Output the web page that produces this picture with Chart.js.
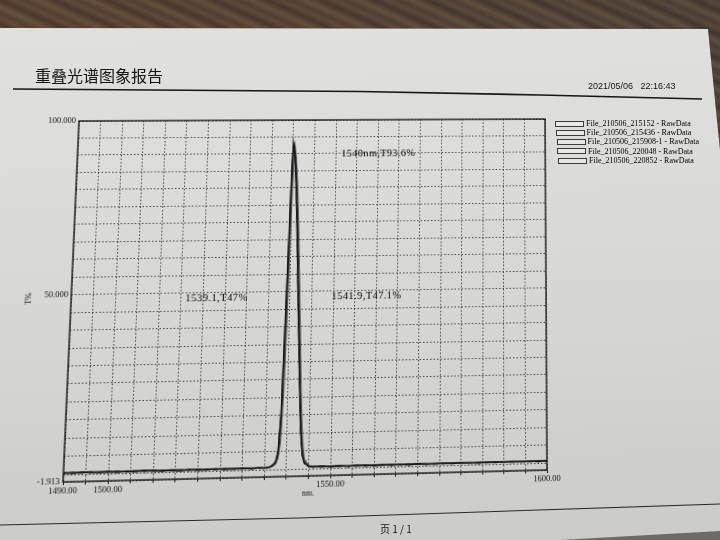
<!DOCTYPE html>
<html>
<head>
<meta charset="utf-8">
<script src="https://cdn.jsdelivr.net/npm/chart.js@4"></script>
<style>
  html, body { margin: 0; padding: 0; width: 720px; height: 540px; overflow: hidden; }
  body { position: relative; background: linear-gradient(178deg, #e1e1df 0%, #dbdbd9 35%, #d3d4d1 70%, #cbccc9 100%); }
  #warp { position: absolute; left: 0; top: 0; width: 720px; height: 540px; transform-origin: 0 0; }
  canvas { display: block; }
  svg { position: absolute; left: 0; top: 0; }
  .t { position: absolute; white-space: nowrap; color: #151515; line-height: 1; will-change: transform; }
  #title { left: 35px; top: 63px; font: 16px "Noto Sans CJK SC"; }
  #stamp { left: 588px; top: 81px; font: 9px "Liberation Sans"; }
  #page { left: 380px; top: 521px; font: 10px "Noto Sans CJK SC"; }
  #legend { position: absolute; left: 0; top: 0; width: 720px; height: 540px; will-change: transform; }
  .row { position: absolute; display: flex; align-items: center; height: 9px; font: 8px "Liberation Serif"; color: #000; white-space: nowrap; }
  .sw { width: 27px; height: 4px; border: 1px solid #3c3c3c; background: #e7e7e5; margin-right: 2px; }
</style>
</head>
<body>
<svg width="720" height="540">
  <defs>
    <linearGradient id="grain" gradientUnits="userSpaceOnUse" x1="0" y1="0" x2="9" y2="-20" spreadMethod="repeat">
      <stop offset="0" stop-color="#3d2f27"/>
      <stop offset="0.25" stop-color="#5c4a3d"/>
      <stop offset="0.45" stop-color="#4a3a30"/>
      <stop offset="0.7" stop-color="#66523f"/>
      <stop offset="1" stop-color="#3d2f27"/>
    </linearGradient>
    <linearGradient id="tone" x1="0" y1="0" x2="1" y2="0">
      <stop offset="0" stop-color="#6b4a32" stop-opacity="0.3"/>
      <stop offset="1" stop-color="#4a4440" stop-opacity="0.3"/>
    </linearGradient>
  </defs>
  <polygon points="0,0 720,0 720,150 714,90 708,29 0,28" fill="url(#grain)"/>
  <polygon points="0,0 720,0 720,150 714,90 708,29 0,28" fill="url(#tone)"/>
  <polygon points="560,540 720,531 720,540" fill="#6e6a66"/>
  <polyline points="13,89 360,91.5 540,95 702,99" fill="none" stroke="#161616" stroke-width="1.6"/>
  <polyline points="0,525 300,518 720,504" fill="none" stroke="#2a2a2a" stroke-width="1.1"/>
</svg>
<div class="t" id="title">重叠光谱图象报告</div>
<div class="t" id="stamp">2021/05/06&nbsp;&nbsp;&nbsp;22:16:43</div>
<div class="t" id="page">页 1 / 1</div>
<div id="legend"></div>
<div id="warp"><canvas id="c" width="720" height="540"></canvas></div>
<script>
// Wavelength samples (nm): coarse along the baseline, fine across the peak
const wavelengths = [
  1490,1492,1494,1496,1498,1500,1502,1504,1506,1508,1510,1512,1514,1516,1518,1520,1522,1524,1526,1528,1530,1532,1534,
  1535,1536,1536.5,1537,1537.5,1538,1538.5,1539,1539.25,1539.5,1539.75,1540,1540.25,1540.5,1540.75,1541,1541.25,1541.5,1541.75,1542,1542.25,1542.5,1543,1543.5,1544,1545,
  1546,1548,1550,1552,1554,1556,1558,1560,1562,1564,1566,1568,1570,1572,1574,1576,1578,1580,1582,1584,1586,1588,1590,1592,1594,1596,1598,1600
];

const seriesLabels = [
  'File_210506_215152 - RawData',
  'File_210506_215436 - RawData',
  'File_210506_215908-1 - RawData',
  'File_210506_220048 - RawData',
  'File_210506_220852 - RawData'
];

// Transmission T% for each scan
const scan215152 = [
  0.6,0.3,0.7,0.4,0.5,0.8,0.3,0.6,0.5,0.7,0.4,0.6,0.5,0.3,0.7,0.5,0.6,0.4,0.7,0.5,0.6,0.5,0.7,
  0.6,0.8,1.0,1.4,2.2,5.0,15.5,41.5,55.5,70.0,85.0,93.6,92.0,89.0,84.0,77.5,70.0,61.5,52.0,44.0,36.0,27.0,11.5,4.0,1.7,0.8,
  0.5,0.7,0.4,0.6,0.5,0.8,0.4,0.6,0.7,0.5,0.6,0.4,0.7,0.5,0.6,0.8,0.5,0.7,0.6,0.4,0.7,0.6,0.5,0.8,0.6,0.7,0.5,0.6
];
const scan215436 = [
  0.4,0.7,0.5,0.6,0.3,0.6,0.7,0.4,0.6,0.5,0.8,0.4,0.6,0.7,0.4,0.6,0.5,0.7,0.4,0.6,0.7,0.5,0.6,
  0.5,0.7,0.9,1.3,2.0,4.4,13.0,36.0,50.5,65.5,81.0,92.0,93.0,90.0,85.5,79.5,72.5,64.5,55.5,47.0,39.0,30.0,13.5,4.8,1.9,0.8,
  0.7,0.4,0.6,0.8,0.5,0.6,0.7,0.4,0.5,0.7,0.6,0.8,0.5,0.6,0.7,0.5,0.8,0.6,0.5,0.7,0.5,0.8,0.6,0.7,0.5,0.6,0.8,0.7
];
const scan215908 = [
  0.5,0.5,0.3,0.6,0.7,0.4,0.5,0.7,0.3,0.6,0.5,0.7,0.4,0.5,0.6,0.4,0.7,0.5,0.6,0.4,0.5,0.7,0.5,
  0.5,0.6,0.8,1.1,1.6,3.0,7.5,22.0,35.0,50.5,66.0,80.5,89.0,91.5,89.0,85.0,79.5,72.5,65.0,56.5,48.0,39.5,21.0,8.0,2.8,1.0,
  0.6,0.5,0.7,0.5,0.7,0.4,0.6,0.5,0.8,0.6,0.5,0.7,0.6,0.4,0.7,0.6,0.5,0.7,0.8,0.5,0.6,0.7,0.6,0.5,0.7,0.8,0.6,0.5
];
const scan220048 = [
  0.7,0.4,0.6,0.5,0.6,0.5,0.4,0.6,0.7,0.4,0.6,0.5,0.7,0.4,0.5,0.7,0.4,0.6,0.5,0.7,0.4,0.6,0.6,
  0.6,0.7,0.9,1.2,1.9,3.8,10.5,29.5,43.0,58.0,74.5,87.5,92.2,90.5,87.0,82.0,75.5,68.5,60.0,51.5,43.0,34.5,16.0,5.6,2.1,0.9,
  0.5,0.6,0.5,0.7,0.4,0.7,0.5,0.7,0.6,0.4,0.7,0.5,0.6,0.7,0.5,0.6,0.7,0.5,0.6,0.8,0.6,0.5,0.7,0.6,0.8,0.5,0.7,0.6
];
const scan220852 = [
  0.3,0.6,0.5,0.7,0.5,0.4,0.6,0.5,0.4,0.8,0.5,0.3,0.6,0.5,0.6,0.3,0.5,0.6,0.4,0.5,0.6,0.4,0.6,
  0.6,0.8,1.1,1.5,2.4,5.4,16.5,43.0,56.5,71.0,85.5,92.8,90.5,87.0,81.5,75.0,67.5,59.0,50.0,42.0,34.0,25.5,10.5,3.7,1.6,0.7,
  0.6,0.8,0.5,0.5,0.6,0.5,0.8,0.5,0.6,0.7,0.5,0.6,0.8,0.6,0.5,0.7,0.6,0.8,0.5,0.6,0.8,0.7,0.6,0.5,0.7,0.6,0.5,0.8
];
const seriesValues = [scan215152, scan215436, scan215908, scan220048, scan220852];

// Axis ticks / grid positions and which of them carry a label
const xGridValues = [1490,1495,1500,1505,1510,1515,1520,1525,1530,1535,1540,1545,1550,1555,1560,1565,1570,1575,1580,1585,1590,1595,1600];
const xLabelValues = [1490,1500,1550,1600];
const yGridValues = [-1.913,0,5,10,15,20,25,30,35,40,45,50,55,60,65,70,75,80,85,90,95,100];
const yLabelValues = [-1.913,50,100];

// Peak readouts written on the plot
const peakNotes = [
  { text: '1540nm,T93.6%', x: 1551.3, y: 90.0, align: 'left' },
  { text: '1539.1,T47%', x: 1530.2, y: 48.4, align: 'right' },
  { text: '1541.9,T47.1%', x: 1549.6, y: 48.4, align: 'left' }
];

const lineColors = ['#141414', '#2c2c2c', '#5a5a5a', '#333333', '#1f1f1f'];

Chart.defaults.font.family = '"Liberation Serif", serif';

const frameAndNotes = {
  id: 'frameAndNotes',
  afterDraw(chart) {
    const { ctx, chartArea: a, scales: { x, y } } = chart;
    ctx.save();
    ctx.strokeStyle = '#111';
    ctx.lineWidth = 1.3;
    ctx.strokeRect(a.left, a.top, a.right - a.left, a.bottom - a.top);
    ctx.fillStyle = '#000';
    ctx.font = '10.5px "Liberation Serif"';
    ctx.letterSpacing = '0.4px';
    ctx.textBaseline = 'middle';
    peakNotes.forEach(n => {
      ctx.textAlign = n.align;
      ctx.fillText(n.text, x.getPixelForValue(n.x), y.getPixelForValue(n.y));
    });
    ctx.restore();
  }
};

const chart = new Chart(document.getElementById('c'), {
  type: 'line',
  data: {
    datasets: seriesValues.map((vals, i) => ({
      label: seriesLabels[i],
      data: wavelengths.map((w, j) => ({ x: w, y: vals[j] })),
      borderColor: lineColors[i],
      borderWidth: 1.15,
      pointRadius: 0,
      tension: 0,
      fill: false
    }))
  },
  options: {
    responsive: false,
    animation: false,
    devicePixelRatio: 1,
    layout: { padding: { left: 20, right: 174, top: 120, bottom: 42 } },
    plugins: { legend: { display: false }, tooltip: { enabled: false } },
    scales: {
      x: {
        type: 'linear', min: 1490, max: 1600,
        afterBuildTicks: s => { s.ticks = xGridValues.map(v => ({ value: v })); },
        afterFit: s => { s.height = 22; },
        ticks: {
          autoSkip: false, maxRotation: 0, padding: 1, color: '#111', font: { size: 8.5 },
          callback: v => xLabelValues.includes(v) ? v.toFixed(2) : ''
        },
        grid: { color: '#333', lineWidth: 0.9, tickLength: 3, tickColor: '#222', tickWidth: 1, tickBorderDash: [] },
        border: { display: false, dash: [1.5, 2] },
        title: { display: true, text: 'nm.', font: { size: 8 }, color: '#111', padding: 0 }
      },
      y: {
        min: -1.913, max: 100,
        afterBuildTicks: s => { s.ticks = yGridValues.map(v => ({ value: v })); },
        afterFit: s => { s.width = 51; },
        ticks: {
          padding: 3, color: '#111', font: { size: 8.5 },
          callback: v => yLabelValues.includes(v) ? v.toFixed(3) : ''
        },
        grid: { color: '#333', lineWidth: 0.9, drawTicks: false },
        border: { display: false, dash: [1.5, 2] },
        title: { display: true, text: 'T%', font: { size: 8 }, color: '#111', padding: { top: 5, bottom: 0 } }
      }
    }
  },
  plugins: [frameAndNotes]
});

// Legend rows built from the dataset labels
const legendRows = [[555, 119], [555.5, 128], [556.5, 137], [557, 146.5], [558, 156]];
const legendEl = document.getElementById('legend');
chart.data.datasets.forEach((ds, i) => {
  const row = document.createElement('div');
  row.className = 'row';
  row.style.left = legendRows[i][0] + 'px';
  row.style.top = legendRows[i][1] + 'px';
  const sw = document.createElement('span');
  sw.className = 'sw';
  const txt = document.createElement('span');
  txt.textContent = ds.label;
  row.appendChild(sw);
  row.appendChild(txt);
  legendEl.appendChild(row);
});

// Projective warp of the sheet: plot frame corners -> where they sit on the page
function solveHomography(src, dst) {
  const A = [];
  for (let i = 0; i < 4; i++) {
    const [x, y] = src[i], [u, v] = dst[i];
    A.push([x, y, 1, 0, 0, 0, -u * x, -u * y, u]);
    A.push([0, 0, 0, x, y, 1, -v * x, -v * y, v]);
  }
  const n = 8;
  for (let c = 0; c < n; c++) {
    let p = c;
    for (let r = c + 1; r < n; r++) if (Math.abs(A[r][c]) > Math.abs(A[p][c])) p = r;
    [A[c], A[p]] = [A[p], A[c]];
    for (let r = 0; r < n; r++) {
      if (r === c) continue;
      const f = A[r][c] / A[c][c];
      for (let k = c; k <= n; k++) A[r][k] -= f * A[c][k];
    }
  }
  return A.map((row, i) => row[n] / row[i]);
}
const plotCorners = [[79, 121], [545, 119], [63, 482], [547, 470]];
const ca = chart.chartArea;
const h = solveHomography(
  [[ca.left, ca.top], [ca.right, ca.top], [ca.left, ca.bottom], [ca.right, ca.bottom]],
  plotCorners
);
document.getElementById('warp').style.transform =
  `matrix3d(${h[0]},${h[3]},0,${h[6]},${h[1]},${h[4]},0,${h[7]},0,0,1,0,${h[2]},${h[5]},0,1)`;
</script>
</body>
</html>
